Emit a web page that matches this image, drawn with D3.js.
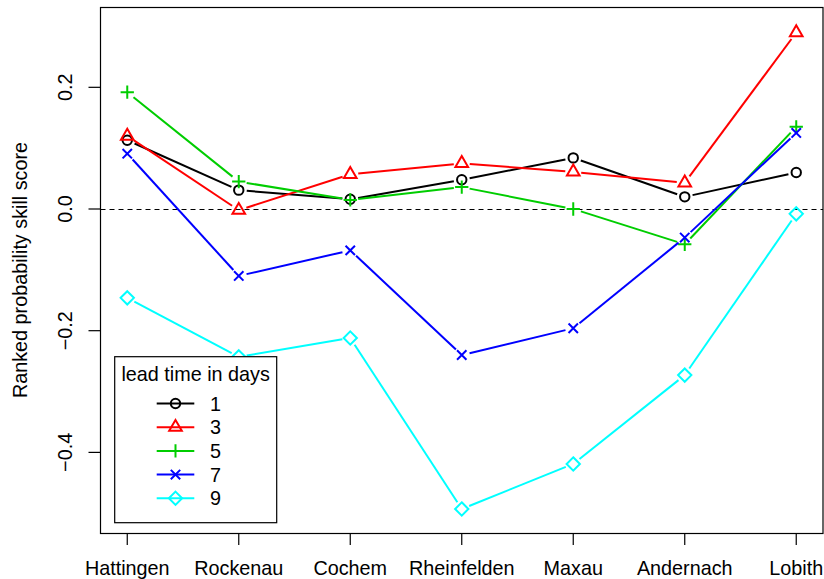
<!DOCTYPE html>
<html>
<head>
<meta charset="utf-8">
<script src="https://cdn.jsdelivr.net/npm/d3@7"></script>
<style>
  body { margin: 0; background: #fff; }
  svg { display: block; font-family: "Liberation Sans", Arial, sans-serif; }
</style>
</head>
<body>
<svg id="chart" width="824" height="579"></svg>
<script>
// data
const stations = ["Hattingen", "Rockenau", "Cochem", "Rheinfelden", "Maxau", "Andernach", "Lobith"];
const leadTimes = [1, 3, 5, 7, 9];
const lead1 = [0.113, 0.031, 0.016, 0.048, 0.084, 0.020, 0.060];
const lead3 = [0.120, -0.002, 0.057, 0.075, 0.061, 0.043, 0.290];
const lead5 = [0.192, 0.045, 0.015, 0.036, 0.000, -0.058, 0.135];
const lead7 = [0.091, -0.110, -0.068, -0.240, -0.196, -0.047, 0.125];
const lead9 = [-0.146, -0.243, -0.212, -0.493, -0.419, -0.273, -0.008];
const yTicks = [-0.4, -0.2, 0.0, 0.2];
const tickLabels = ["\u22120.4", "\u22120.2", "0.0", "0.2"];

const seriesValues = [lead1, lead3, lead5, lead7, lead9];
const colors = ["#000000", "#FF0000", "#00CD00", "#0000FF", "#00FFFF"];
const shapes = ["circle", "triangle", "plus", "cross", "diamond"];

const margin = { left: 100.5, top: 7, right: 1, bottom: 46 };
const W = 824, H = 579;
const fs = 19.8;

const svg = d3.select("#chart");

// R style: xlim extended 4% on each side
const x = d3.scaleLinear().domain([0.76, 7.24]).range([margin.left, W - margin.right]);
const y = d3.scaleLinear().domain([-0.5325, 0.332]).range([H - margin.bottom, margin.top]);

// R pch glyphs
const r0 = 4.7;
function glyph(g, shape, cx, cy, color) {
  const common = (s) => s.attr("fill", "none").attr("stroke", color).attr("stroke-width", 2);
  if (shape === "circle") {
    common(g.append("circle").attr("cx", cx).attr("cy", cy).attr("r", r0));
  } else if (shape === "triangle") {
    const t0 = 1.555 * r0, t1 = t0 * Math.sqrt(3) / 2, t2 = t0 / 2;
    const p = d3.path();
    p.moveTo(cx, cy - t0); p.lineTo(cx + t1, cy + t2); p.lineTo(cx - t1, cy + t2); p.closePath();
    common(g.append("path").attr("d", p.toString()));
  } else if (shape === "plus") {
    const a = Math.SQRT2 * r0;
    const p = d3.path();
    p.moveTo(cx - a, cy); p.lineTo(cx + a, cy); p.moveTo(cx, cy - a); p.lineTo(cx, cy + a);
    common(g.append("path").attr("d", p.toString()));
  } else if (shape === "cross") {
    const a = r0;
    const p = d3.path();
    p.moveTo(cx - a, cy - a); p.lineTo(cx + a, cy + a); p.moveTo(cx - a, cy + a); p.lineTo(cx + a, cy - a);
    common(g.append("path").attr("d", p.toString()));
  } else if (shape === "diamond") {
    const a = Math.SQRT2 * r0;
    const p = d3.path();
    p.moveTo(cx, cy - a); p.lineTo(cx + a, cy); p.lineTo(cx, cy + a); p.lineTo(cx - a, cy); p.closePath();
    common(g.append("path").attr("d", p.toString()));
  }
}

// zero reference line
svg.append("line")
  .attr("x1", margin.left).attr("x2", W - margin.right)
  .attr("y1", Math.round(y(0)) + 0.5).attr("y2", Math.round(y(0)) + 0.5)
  .attr("stroke", "#000").attr("stroke-width", 1)
  .attr("stroke-dasharray", "5,4");

// series: type = "b" (segments with gaps around points)
const gap = 8;
seriesValues.forEach((vals, s) => {
  const g = svg.append("g");
  const pts = vals.map((v, i) => [x(i + 1), y(v)]);
  for (let i = 0; i < pts.length - 1; i++) {
    const [x1, y1] = pts[i], [x2, y2] = pts[i + 1];
    const len = Math.hypot(x2 - x1, y2 - y1);
    if (len <= 2 * gap) continue;
    const ux = (x2 - x1) / len, uy = (y2 - y1) / len;
    g.append("line")
      .attr("x1", x1 + ux * gap).attr("y1", y1 + uy * gap)
      .attr("x2", x2 - ux * gap).attr("y2", y2 - uy * gap)
      .attr("stroke", colors[s]).attr("stroke-width", 2);
  }
  pts.forEach(([px, py]) => glyph(g, shapes[s], px, py, colors[s]));
});

// box
svg.append("rect")
  .attr("x", margin.left).attr("y", margin.top + 0.5)
  .attr("width", W - margin.right - margin.left)
  .attr("height", H - margin.bottom - margin.top)
  .attr("fill", "none").attr("stroke", "#000").attr("stroke-width", 1.2);

// x axis
const xAxis = svg.append("g");
stations.forEach((name, i) => {
  xAxis.append("line")
    .attr("x1", x(i + 1)).attr("x2", x(i + 1))
    .attr("y1", H - margin.bottom).attr("y2", H - margin.bottom + 12)
    .attr("stroke", "#000").attr("stroke-width", 1.2);
  xAxis.append("text")
    .attr("x", x(i + 1)).attr("y", 575)
    .attr("text-anchor", "middle").attr("font-size", fs)
    .text(name);
});

// y axis
const yAxis = svg.append("g");
yTicks.forEach((v, i) => {
  yAxis.append("line")
    .attr("x1", margin.left - 12).attr("x2", margin.left)
    .attr("y1", y(v)).attr("y2", y(v))
    .attr("stroke", "#000").attr("stroke-width", 1.2);
  yAxis.append("text")
    .attr("transform", `translate(72,${y(v)}) rotate(-90)`)
    .attr("text-anchor", "middle").attr("font-size", fs)
    .text(tickLabels[i]);
});
svg.append("text")
  .attr("transform", `translate(27,${(margin.top + H - margin.bottom) / 2}) rotate(-90)`)
  .attr("text-anchor", "middle").attr("font-size", fs)
  .text("Ranked probability skill score");

// legend
const lg = svg.append("g");
lg.append("rect")
  .attr("x", 114.7).attr("y", 356.7).attr("width", 162).attr("height", 166)
  .attr("fill", "#fff").attr("stroke", "#000").attr("stroke-width", 1.2);
lg.append("text")
  .attr("x", 195.7).attr("y", 381).attr("text-anchor", "middle").attr("font-size", fs)
  .text("lead time in days");
leadTimes.forEach((d, i) => {
  const ly = 403.5 + i * 23.7;
  lg.append("line")
    .attr("x1", 156.7).attr("x2", 194.3).attr("y1", ly).attr("y2", ly)
    .attr("stroke", colors[i]).attr("stroke-width", 2);
  glyph(lg, shapes[i], 175.5, ly, colors[i]);
  lg.append("text")
    .attr("x", 210).attr("y", ly + 7).attr("font-size", fs)
    .text(d);
});
</script>
</body>
</html>
